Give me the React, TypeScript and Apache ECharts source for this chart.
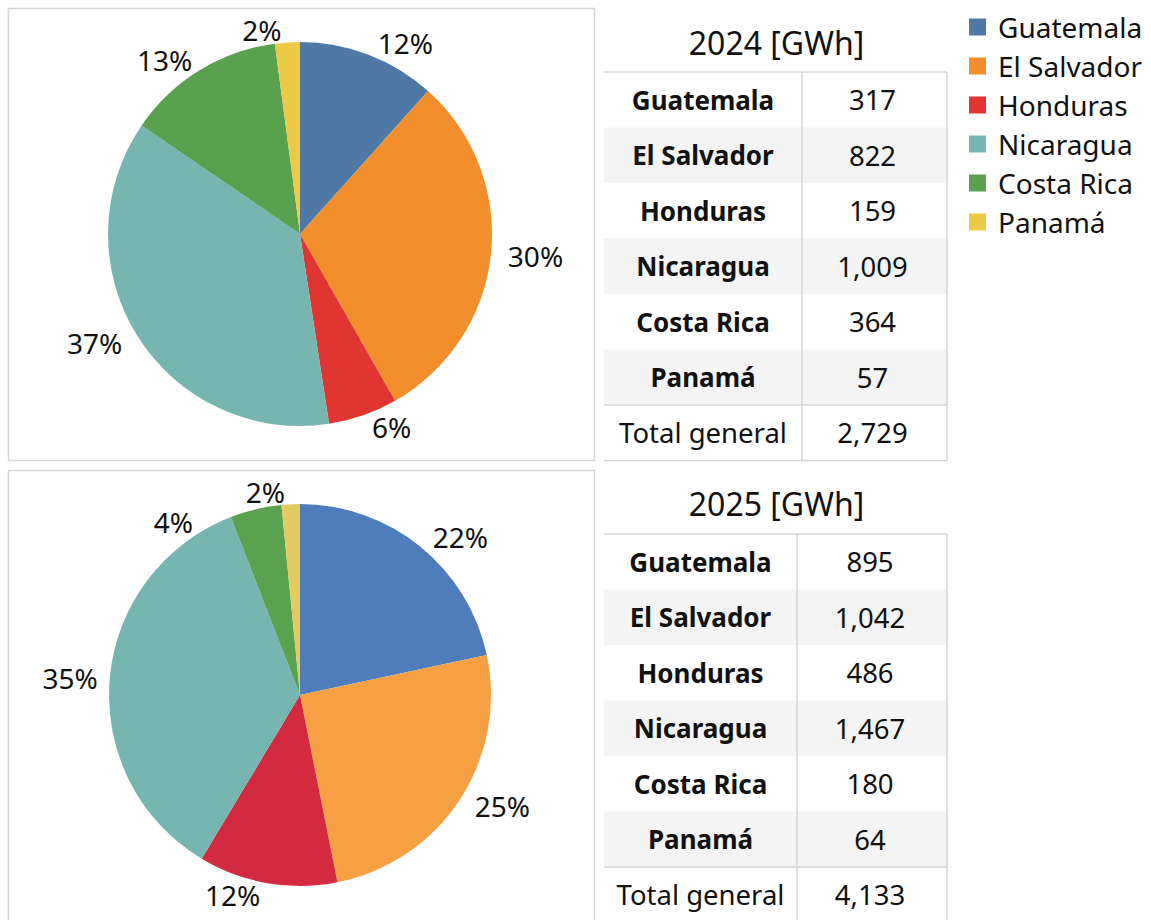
import React, { useEffect, useRef } from "react";
import * as echarts from "echarts";

const categories = ["Guatemala", "El Salvador", "Honduras", "Nicaragua", "Costa Rica", "Panamá"];
const values2024 = [317, 822, 159, 1009, 364, 57];
const values2025 = [895, 1042, 486, 1467, 180, 64];
const totals = [2729, 4133];
const years = ["2024 [GWh]", "2025 [GWh]"];
const totalLabel = "Total general";
const colors2024 = ["#4e79a7", "#f28e2b", "#e03531", "#76b5b0", "#59a14f", "#edc948"];
const colors2025 = ["#4f7cba", "#f7a043", "#d42a40", "#76b5b0", "#5aa150", "#e3cb64"];

const FONT = "'Noto Sans', 'Open Sans', sans-serif";
const fmt = (v: number) => v.toLocaleString("en-US");

function buildTable(title: string, values: number[], total: number, titleY: number, top: number, x0: number, xDiv: number, x1: number) {
  const rowH = 55.5;
  const els: any[] = [];
  els.push({
    type: "text",
    x: (x0 + x1) / 2 + 1,
    y: titleY,
    style: { text: title, font: `32px ${FONT}`, fill: "#111", align: "center", verticalAlign: "middle" },
  });
  const rows = categories.map((c, i) => ({ name: c, value: fmt(values[i]), bold: true }));
  rows.push({ name: totalLabel, value: fmt(total), bold: false });
  rows.forEach((r, i) => {
    const y = top + i * rowH;
    if (i % 2 === 1) {
      els.push({ type: "rect", shape: { x: x0, y, width: x1 - x0, height: rowH }, style: { fill: "#f4f4f4" }, silent: true });
    }
    els.push({
      type: "text",
      x: (x0 + xDiv) / 2,
      y: y + rowH / 2,
      style: { text: r.name, font: `${r.bold ? "bold 26px" : "27.5px"} ${FONT}`, fill: "#111", align: "center", verticalAlign: "middle" },
    });
    els.push({
      type: "text",
      x: (xDiv + x1) / 2 - 2,
      y: y + rowH / 2,
      style: { text: r.value, font: `27.5px ${FONT}`, fill: "#111", align: "center", verticalAlign: "middle" },
    });
  });
  const bottom = top + rows.length * rowH;
  const lineStyle = { stroke: "#d4d4d4", lineWidth: 1.5 };
  els.push({ type: "line", shape: { x1: x0, y1: top, x2: x1, y2: top }, style: lineStyle });
  els.push({ type: "line", shape: { x1: x0, y1: top + 6 * rowH, x2: x1, y2: top + 6 * rowH }, style: lineStyle });
  els.push({ type: "line", shape: { x1: x0, y1: bottom, x2: x1, y2: bottom }, style: lineStyle });
  els.push({ type: "line", shape: { x1: xDiv, y1: top, x2: xDiv, y2: bottom }, style: lineStyle });
  els.push({ type: "line", shape: { x1: x1, y1: top, x2: x1, y2: bottom }, style: lineStyle });
  return els;
}

export default function App() {
  const ref = useRef<HTMLDivElement>(null);
  useEffect(() => {
    if (!ref.current) return;
    const chart = echarts.init(ref.current, undefined, { renderer: "svg" });
    const label = {
      show: true,
      position: "outside",
      formatter: "{d}%",
      fontFamily: FONT,
      fontSize: 28,
      color: "#111",
    };
    const pieBase = {
      type: "pie",
      radius: 192,
      startAngle: 90,
      clockwise: true,
      percentPrecision: 0,
      label,
      labelLine: { show: false, length: 12, length2: 0 },
      itemStyle: { borderWidth: 0 },
      emphasis: { disabled: true },
    };
    const option: any = {
      animation: false,
      legend: {
        orient: "vertical",
        left: 964,
        top: 7,
        icon: "rect",
        itemWidth: 17,
        itemHeight: 17,
        itemGap: 9,
        selectedMode: false,
        data: categories,
        textStyle: { fontFamily: FONT, fontSize: 28, color: "#111", lineHeight: 30, padding: [0, 0, 0, 7] },
      },
      graphic: [
        { type: "rect", shape: { x: 8.5, y: 8.5, width: 586, height: 452 }, style: { fill: "none", stroke: "#d6d6d6", lineWidth: 1.5 }, silent: true, z: -1 },
        { type: "rect", shape: { x: 8.5, y: 470.5, width: 586, height: 470 }, style: { fill: "none", stroke: "#d6d6d6", lineWidth: 1.5 }, silent: true, z: -1 },
        ...buildTable(years[0], values2024, totals[0], 42, 72, 604, 802, 947),
        ...buildTable(years[1], values2025, totals[1], 503, 534, 604, 797, 947),
      ],
      series: [
        {
          ...pieBase,
          center: [300, 234],
          data: categories.map((c, i) => ({ name: c, value: values2024[i], itemStyle: { color: colors2024[i] } })),
        },
        {
          ...pieBase,
          radius: 191,
          center: [300, 695],
          data: categories.map((c, i) => ({ name: c, value: values2025[i], itemStyle: { color: colors2025[i] } })),
        },
      ],
    };
    chart.setOption(option);
    return () => chart.dispose();
  }, []);
  return <div ref={ref} style={{ position: "absolute", left: 0, top: 0, width: 1151, height: 920, background: "#fff" }} />;
}
